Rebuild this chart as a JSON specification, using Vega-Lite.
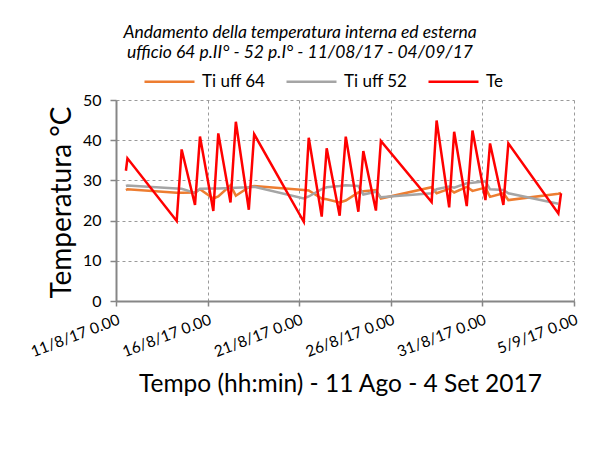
{
  "$schema": "https://vega.github.io/schema/vega-lite/v6.json",
  "width": 458,
  "height": 201,
  "autosize": "none",
  "padding": {"left": 116, "top": 100, "right": 28, "bottom": 154},
  "background": "white",
  "config": {"view": {"stroke": null}, "font": "Lato"},
  "title": {
    "text": ["Andamento della temperatura interna ed esterna", "ufficio 64 p.II° - 52 p.I° - 11/08/17 - 04/09/17"],
    "font": "Lato", "fontStyle": "italic", "fontWeight": "normal", "fontSize": 17.5,
    "color": "black", "anchor": "middle", "frame": "group", "dx": -45, "dy": 36, "lineHeight": 20, "offset": 30
  },
  "data": {"values": [
    {"t": "2017-08-11T13:00", "serie": "Ti uff 64", "temp": 27.6},
    {"t": "2017-08-11T15:00", "serie": "Ti uff 64", "temp": 27.8},
    {"t": "2017-08-14T07:30", "serie": "Ti uff 64", "temp": 26.9},
    {"t": "2017-08-14T14:00", "serie": "Ti uff 64", "temp": 26.9},
    {"t": "2017-08-15T07:30", "serie": "Ti uff 64", "temp": 27.0},
    {"t": "2017-08-15T14:00", "serie": "Ti uff 64", "temp": 27.8},
    {"t": "2017-08-16T07:30", "serie": "Ti uff 64", "temp": 25.5},
    {"t": "2017-08-16T14:00", "serie": "Ti uff 64", "temp": 26.0},
    {"t": "2017-08-17T06:00", "serie": "Ti uff 64", "temp": 28.8},
    {"t": "2017-08-17T13:00", "serie": "Ti uff 64", "temp": 26.2},
    {"t": "2017-08-18T06:00", "serie": "Ti uff 64", "temp": 28.3},
    {"t": "2017-08-18T13:00", "serie": "Ti uff 64", "temp": 28.6},
    {"t": "2017-08-21T06:00", "serie": "Ti uff 64", "temp": 27.6},
    {"t": "2017-08-21T12:30", "serie": "Ti uff 64", "temp": 27.5},
    {"t": "2017-08-22T05:30", "serie": "Ti uff 64", "temp": 25.5},
    {"t": "2017-08-22T12:00", "serie": "Ti uff 64", "temp": 25.3},
    {"t": "2017-08-23T05:00", "serie": "Ti uff 64", "temp": 24.5},
    {"t": "2017-08-23T13:00", "serie": "Ti uff 64", "temp": 25.0},
    {"t": "2017-08-24T05:30", "serie": "Ti uff 64", "temp": 27.0},
    {"t": "2017-08-24T12:00", "serie": "Ti uff 64", "temp": 27.3},
    {"t": "2017-08-25T04:30", "serie": "Ti uff 64", "temp": 27.6},
    {"t": "2017-08-25T11:00", "serie": "Ti uff 64", "temp": 25.5},
    {"t": "2017-08-28T05:30", "serie": "Ti uff 64", "temp": 28.3},
    {"t": "2017-08-28T12:00", "serie": "Ti uff 64", "temp": 26.8},
    {"t": "2017-08-29T04:30", "serie": "Ti uff 64", "temp": 27.9},
    {"t": "2017-08-29T11:00", "serie": "Ti uff 64", "temp": 27.0},
    {"t": "2017-08-30T03:30", "serie": "Ti uff 64", "temp": 28.4},
    {"t": "2017-08-30T11:00", "serie": "Ti uff 64", "temp": 27.4},
    {"t": "2017-08-31T04:00", "serie": "Ti uff 64", "temp": 28.2},
    {"t": "2017-08-31T10:00", "serie": "Ti uff 64", "temp": 25.9},
    {"t": "2017-09-01T03:30", "serie": "Ti uff 64", "temp": 26.8},
    {"t": "2017-09-01T10:00", "serie": "Ti uff 64", "temp": 25.1},
    {"t": "2017-09-04T03:30", "serie": "Ti uff 64", "temp": 26.7},
    {"t": "2017-09-04T07:00", "serie": "Ti uff 64", "temp": 26.9},
    {"t": "2017-08-11T13:00", "serie": "Ti uff 52", "temp": 28.6},
    {"t": "2017-08-11T15:00", "serie": "Ti uff 52", "temp": 28.7},
    {"t": "2017-08-14T07:30", "serie": "Ti uff 52", "temp": 28.0},
    {"t": "2017-08-14T14:00", "serie": "Ti uff 52", "temp": 27.9},
    {"t": "2017-08-15T07:30", "serie": "Ti uff 52", "temp": 26.9},
    {"t": "2017-08-15T14:00", "serie": "Ti uff 52", "temp": 27.9},
    {"t": "2017-08-16T07:30", "serie": "Ti uff 52", "temp": 28.0},
    {"t": "2017-08-16T14:00", "serie": "Ti uff 52", "temp": 28.0},
    {"t": "2017-08-17T06:00", "serie": "Ti uff 52", "temp": 28.1},
    {"t": "2017-08-17T13:00", "serie": "Ti uff 52", "temp": 28.2},
    {"t": "2017-08-18T06:00", "serie": "Ti uff 52", "temp": 28.3},
    {"t": "2017-08-18T13:00", "serie": "Ti uff 52", "temp": 28.4},
    {"t": "2017-08-21T06:00", "serie": "Ti uff 52", "temp": 25.5},
    {"t": "2017-08-21T12:30", "serie": "Ti uff 52", "temp": 26.0},
    {"t": "2017-08-22T05:30", "serie": "Ti uff 52", "temp": 27.8},
    {"t": "2017-08-22T12:00", "serie": "Ti uff 52", "temp": 28.3},
    {"t": "2017-08-23T05:00", "serie": "Ti uff 52", "temp": 28.6},
    {"t": "2017-08-23T13:00", "serie": "Ti uff 52", "temp": 28.8},
    {"t": "2017-08-24T05:30", "serie": "Ti uff 52", "temp": 28.6},
    {"t": "2017-08-24T12:00", "serie": "Ti uff 52", "temp": 26.5},
    {"t": "2017-08-25T04:30", "serie": "Ti uff 52", "temp": 27.2},
    {"t": "2017-08-25T11:00", "serie": "Ti uff 52", "temp": 25.8},
    {"t": "2017-08-28T05:30", "serie": "Ti uff 52", "temp": 26.8},
    {"t": "2017-08-28T12:00", "serie": "Ti uff 52", "temp": 27.8},
    {"t": "2017-08-29T04:30", "serie": "Ti uff 52", "temp": 28.5},
    {"t": "2017-08-29T11:00", "serie": "Ti uff 52", "temp": 28.2},
    {"t": "2017-08-30T03:30", "serie": "Ti uff 52", "temp": 29.3},
    {"t": "2017-08-30T11:00", "serie": "Ti uff 52", "temp": 29.4},
    {"t": "2017-08-31T04:00", "serie": "Ti uff 52", "temp": 29.8},
    {"t": "2017-08-31T10:00", "serie": "Ti uff 52", "temp": 27.8},
    {"t": "2017-09-01T03:30", "serie": "Ti uff 52", "temp": 27.6},
    {"t": "2017-09-01T10:00", "serie": "Ti uff 52", "temp": 26.8},
    {"t": "2017-09-04T03:30", "serie": "Ti uff 52", "temp": 24.2},
    {"t": "2017-08-11T13:00", "serie": "Te", "temp": 32.4},
    {"t": "2017-08-11T15:00", "serie": "Te", "temp": 35.5},
    {"t": "2017-08-14T07:30", "serie": "Te", "temp": 19.9},
    {"t": "2017-08-14T14:00", "serie": "Te", "temp": 37.7},
    {"t": "2017-08-15T07:30", "serie": "Te", "temp": 23.9},
    {"t": "2017-08-15T14:00", "serie": "Te", "temp": 40.9},
    {"t": "2017-08-16T07:30", "serie": "Te", "temp": 22.4},
    {"t": "2017-08-16T14:00", "serie": "Te", "temp": 41.7},
    {"t": "2017-08-17T06:00", "serie": "Te", "temp": 24.5},
    {"t": "2017-08-17T13:00", "serie": "Te", "temp": 44.6},
    {"t": "2017-08-18T06:00", "serie": "Te", "temp": 22.7},
    {"t": "2017-08-18T13:00", "serie": "Te", "temp": 41.5},
    {"t": "2017-08-21T06:00", "serie": "Te", "temp": 19.7},
    {"t": "2017-08-21T12:30", "serie": "Te", "temp": 40.6},
    {"t": "2017-08-22T05:30", "serie": "Te", "temp": 21.0},
    {"t": "2017-08-22T12:00", "serie": "Te", "temp": 38.0},
    {"t": "2017-08-23T05:00", "serie": "Te", "temp": 21.2},
    {"t": "2017-08-23T13:00", "serie": "Te", "temp": 40.9},
    {"t": "2017-08-24T05:30", "serie": "Te", "temp": 22.2},
    {"t": "2017-08-24T12:00", "serie": "Te", "temp": 37.3},
    {"t": "2017-08-25T04:30", "serie": "Te", "temp": 22.5},
    {"t": "2017-08-25T11:00", "serie": "Te", "temp": 39.8},
    {"t": "2017-08-28T05:30", "serie": "Te", "temp": 24.6},
    {"t": "2017-08-28T12:00", "serie": "Te", "temp": 44.9},
    {"t": "2017-08-29T04:30", "serie": "Te", "temp": 23.3},
    {"t": "2017-08-29T11:00", "serie": "Te", "temp": 42.1},
    {"t": "2017-08-30T03:30", "serie": "Te", "temp": 23.6},
    {"t": "2017-08-30T11:00", "serie": "Te", "temp": 42.4},
    {"t": "2017-08-31T04:00", "serie": "Te", "temp": 25.1},
    {"t": "2017-08-31T10:00", "serie": "Te", "temp": 39.2},
    {"t": "2017-09-01T03:30", "serie": "Te", "temp": 23.9},
    {"t": "2017-09-01T10:00", "serie": "Te", "temp": 39.2},
    {"t": "2017-09-04T03:30", "serie": "Te", "temp": 21.8},
    {"t": "2017-09-04T07:00", "serie": "Te", "temp": 26.8}
  ]},
  "mark": {"type": "line", "strokeWidth": 2.5},
  "encoding": {
    "x": {
      "field": "t", "type": "temporal",
      "scale": {"domain": [{"year": 2017, "month": 8, "date": 11, "hours": 0}, {"year": 2017, "month": 9, "date": 5, "hours": 0}]},
      "axis": {
        "values": [
          {"year": 2017, "month": 8, "date": 11, "hours": 0},
          {"year": 2017, "month": 8, "date": 16, "hours": 0},
          {"year": 2017, "month": 8, "date": 21, "hours": 0},
          {"year": 2017, "month": 8, "date": 26, "hours": 0},
          {"year": 2017, "month": 8, "date": 31, "hours": 0},
          {"year": 2017, "month": 9, "date": 5, "hours": 0}
        ],
        "format": "%-d/%-m/%y %-H.%M",
        "labelAngle": -21, "labelAlign": "right", "labelBaseline": "top",
        "labelFontSize": 15.5, "labelColor": "black", "labelPadding": 6,
        "labelFlush": false, "labelOverlap": false, "labelBound": false,
        "grid": true, "gridDash": [3, 3], "gridColor": "#9a9a9a", "gridWidth": 1,
        "domainColor": "#868686", "domainWidth": 2,
        "tickColor": "#868686", "tickSize": 5, "tickWidth": 1.5,
        "title": "Tempo (hh:min) - 11 Ago - 4 Set 2017",
        "titleFontSize": 24.5, "titleFontWeight": "normal", "titleColor": "black",
        "titleX": 224, "titleY": 83, "titleAlign": "center", "titleBaseline": "middle"
      }
    },
    "y": {
      "field": "temp", "type": "quantitative",
      "scale": {"domain": [0, 50]},
      "axis": {
        "values": [0, 10, 20, 30, 40, 50],
        "labelFontSize": 16, "labelColor": "black", "labelPadding": 9,
        "grid": true, "gridDash": [3, 3], "gridColor": "#9a9a9a", "gridWidth": 1,
        "domainColor": "#868686", "domainWidth": 2,
        "tickColor": "#868686", "tickSize": 6, "tickWidth": 1.5,
        "title": "Temperatura °C",
        "titleFontSize": 28, "titleFontWeight": "normal", "titleColor": "black",
        "titleX": -54, "titleY": 102, "titleAngle": -90, "titleAlign": "center", "titleBaseline": "middle"
      }
    },
    "color": {
      "field": "serie", "type": "nominal",
      "scale": {"domain": ["Ti uff 64", "Ti uff 52", "Te"], "range": ["#ED7D31", "#A5A5A5", "#FF0000"]},
      "legend": {
        "orient": "none", "legendX": 27, "legendY": -45, "direction": "horizontal",
        "title": null, "symbolType": "stroke", "symbolSize": 2500, "symbolStrokeWidth": 2.5,
        "labelFontSize": 17, "labelColor": "black", "labelOffset": 6, "columnPadding": 15
      }
    }
  }
}
